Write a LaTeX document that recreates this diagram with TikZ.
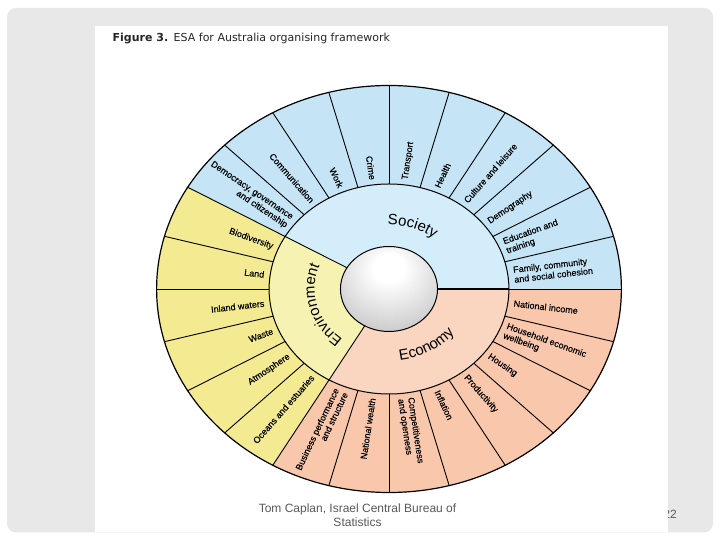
\documentclass[tikz,border=0pt]{standalone}
\usepackage{fontspec}
\setmainfont{Liberation Sans}
\newfontfamily\titlefont{DejaVu Sans}
\newfontfamily\labfont[FakeBold=0.3]{Liberation Sans}
\usetikzlibrary{decorations.text}
\definecolor{slidegray}{RGB}{232,232,232}
\definecolor{socA}{RGB}{197,229,247}
\definecolor{socB}{RGB}{212,237,250}
\definecolor{envA}{RGB}{243,234,146}
\definecolor{envB}{RGB}{246,242,178}
\definecolor{ecoA}{RGB}{248,199,172}
\definecolor{ecoB}{RGB}{250,213,191}
\definecolor{captgray}{RGB}{89,89,89}
\pgfdeclareradialshading{hubshade}{\pgfpoint{0bp}{14bp}}{color(0bp)=(white); color(8bp)=(white); color(30bp)=(black!18); color(50bp)=(black!38); color(70bp)=(black!48)}
\newcommand\midf{\fontsize{15}{15}\selectfont}
\begin{document}
\begin{tikzpicture}[x=1pt,y=1pt,
  spoke/.style={line width=0.9pt, black},
  rim/.style={line width=1.2pt, black},
  lab/.style={font=\labfont\fontsize{9}{10}\selectfont, text=black, inner sep=0pt}]
\useasboundingbox (0,0) rectangle (720,540);
\fill[white] (0,0) rectangle (720,540);
\fill[slidegray, rounded corners=9pt] (7,7.5) rectangle (713,532);
\node[font=\fontsize{12}{14}\selectfont, text=captgray] (pagenum) at (670,25.5) {22};
\fill[white] (95,7.5) rectangle (668,514);
\node[anchor=base west, font=\titlefont\fontsize{11}{13}\selectfont, text=black!85, inner sep=0pt] (title) at (112.5,498) {\textbf{Figure 3.}\enspace ESA for Australia organising framework};
\node[font=\fontsize{12}{14}\selectfont, text=captgray, align=center] (caption) at (357.5,25.1) {Tom Caplan, Israel Central Bureau of\\Statistics};
\def\k{1.142}\def\Ro{203.5}\def\Rm{105}\def\Rh{42.5}
\begin{scope}[shift={(389,251)}]
% outer ring fills
\fill[socA] (0,0) -- (0:{\k*\Ro} and {\Ro}) arc[start angle=0,end angle=150,x radius=\k*\Ro,y radius=\Ro] -- cycle;
\fill[envA] (0,0) -- (150:{\k*\Ro} and {\Ro}) arc[start angle=150,end angle=240,x radius=\k*\Ro,y radius=\Ro] -- cycle;
\fill[ecoA] (0,0) -- (240:{\k*\Ro} and {\Ro}) arc[start angle=240,end angle=360,x radius=\k*\Ro,y radius=\Ro] -- cycle;
% middle ring fills
\fill[socB] (0,0) -- (0:{\k*\Rm} and {\Rm}) arc[start angle=0,end angle=150,x radius=\k*\Rm,y radius=\Rm] -- cycle;
\fill[envB] (0,0) -- (150:{\k*\Rm} and {\Rm}) arc[start angle=150,end angle=240,x radius=\k*\Rm,y radius=\Rm] -- cycle;
\fill[ecoB] (0,0) -- (240:{\k*\Rm} and {\Rm}) arc[start angle=240,end angle=360,x radius=\k*\Rm,y radius=\Rm] -- cycle;
% spokes
\foreach \a in {0,15,...,345}
  \draw[spoke] (\a:{\k*\Rm} and {\Rm}) -- (\a:{\k*\Ro} and {\Ro});
\foreach \a in {150,240}
  \draw[spoke] (\a:{\k*\Rh} and {\Rh}) -- (\a:{\k*\Rm} and {\Rm});
\draw[line width=1.7pt] (0:{\k*\Rh} and {\Rh}) -- (0:{\k*\Rm} and {\Rm});
% rims
\draw[rim] (0,0) ellipse[x radius=\k*\Ro, y radius=\Ro];
\draw[line width=1pt] (0,0) ellipse[x radius=\k*\Rm, y radius=\Rm];
% hub
\shade[shading=hubshade] (0,0) ellipse[x radius=\k*\Rh, y radius=\Rh];
\draw[line width=1pt] (0,0) ellipse[x radius=\k*\Rh, y radius=\Rh];
% outer labels, right half
\foreach \a/\txt [count=\i] in {7.5/{Family, community\\and social cohesion}, 22.5/{Education and\\training}, 37.5/Demography, 52.5/{Culture and leisure}, 67.5/Health, 82.5/Transport, 277.5/{Competitiveness\\and openness}, 292.5/Inflation, 307.5/Productivity, 322.5/Housing, 337.5/{Household economic\\wellbeing}, 352.5/{National income}}
  \node[lab, anchor=west, align=left, rotate={atan2(sin(\a),\k*cos(\a))}] (outR\i) at (\a:{\k*(\Rm+5)} and {\Rm+5}) {\txt};
% outer labels, left half
\foreach \a/\txt [count=\i] in {97.5/Crime, 112.5/Work, 127.5/Communication, 142.5/{Democracy, governance\\and citizenship}, 157.5/Biodiversity, 172.5/Land, 187.5/{Inland waters}, 202.5/Waste, 217.5/Atmosphere, 232.5/{Oceans and estuaries}, 247.5/{Business performance\\and structure}, 262.5/{National wealth}}
  \node[lab, anchor=east, align=right, rotate={atan2(sin(\a),\k*cos(\a))+180}] (outL\i) at (\a:{\k*(\Rm+5)} and {\Rm+5}) {\txt};
% middle labels
\path[decorate, decoration={text along path, text align=center, text={|\midf|Society}}] (108:{\k*64} and {64}) arc[start angle=108, end angle=34, x radius=\k*64, y radius=64];
\path[decorate, decoration={text along path, text align=center, text={|\midf|Environment}}] (240:{\k*65} and {65}) arc[start angle=240, end angle=150, x radius=\k*65, y radius=65];
\path[decorate, decoration={text along path, text align=center, text={|\midf|Economy}}] (-98:{\k*72} and {72}) arc[start angle=-98, end angle=-20, x radius=\k*72, y radius=72];
\end{scope}
\end{tikzpicture}
\end{document}
